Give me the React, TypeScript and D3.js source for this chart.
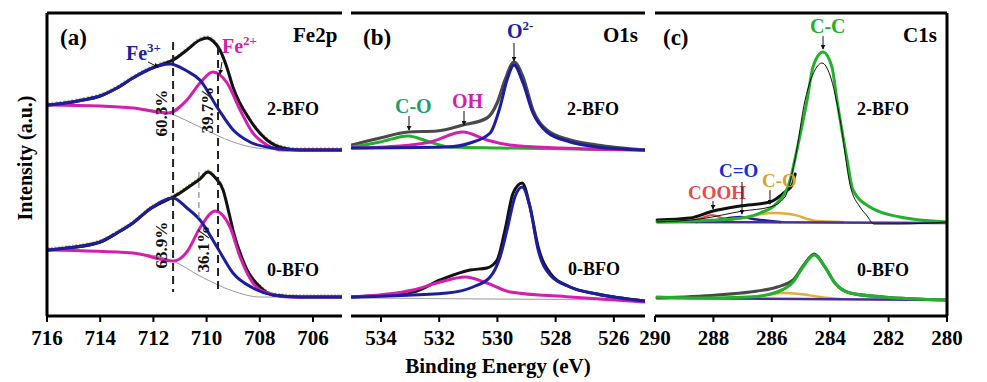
import React from 'react';
import * as d3 from 'd3';

type Pt = [number, number];

const FONT = "'Liberation Serif', 'Times New Roman', Times, serif";
const W = 987;
const H = 382;
const TOP = 13;
const BOTTOM = 316;

// ---------- tick labels ----------
const ticksA = [716, 714, 712, 710, 708, 706];
const ticksB = [534, 532, 530, 528, 526];
const ticksC = [290, 288, 286, 284, 282, 280];

// ---------- (a) Fe2p : [binding energy, intensity] ----------
const feTopBlack: Pt[] = [[715.96, 211], [715.3, 213], [714.65, 216], [714.0, 220], [713.37, 228], [712.77, 238], [712.13, 247], [711.86, 250], [711.26, 256], [710.74, 266], [710.25, 276], [709.98, 278], [709.76, 275], [709.5, 266], [709.23, 248], [709.01, 229], [708.37, 196], [707.73, 176], [707.13, 168], [706.5, 166], [704.9, 166]];
const feTopBlue: Pt[] = [[715.96, 211], [715.3, 213], [714.65, 216], [714.0, 220], [713.37, 228], [712.77, 238], [712.13, 247], [711.38, 252], [710.74, 245], [710.25, 236], [709.61, 209], [709.0, 186], [708.37, 174], [707.5, 168], [706.5, 166], [704.9, 166]];
const feTopMag: Pt[] = [[715.96, 211], [714.0, 210], [712.77, 208], [711.45, 203], [710.74, 216], [710.25, 233], [709.76, 244], [709.23, 233], [708.74, 206], [708.26, 183], [707.73, 171], [707.13, 166], [704.9, 166]];
const feTopBg: Pt[] = [[715.96, 211], [712.77, 208], [711.45, 203], [710.25, 189], [709.01, 174], [707.73, 167], [704.9, 166]];

const feBotBlack: Pt[] = [[715.96, 66], [715.25, 68], [714.0, 74], [713.37, 83], [712.77, 93], [712.13, 107], [711.26, 119], [711.0, 123], [710.62, 130], [710.25, 137], [709.95, 144], [709.7, 139], [709.38, 126], [709.15, 102], [709.0, 85], [708.7, 60], [708.48, 46], [707.99, 29], [707.5, 21], [706.5, 19], [704.9, 19]];
const feBotBlue: Pt[] = [[715.96, 66], [715.25, 68], [714.0, 74], [713.37, 83], [712.77, 93], [712.13, 107], [711.26, 118], [710.74, 108], [710.25, 96], [709.61, 69], [709.01, 43], [708.26, 28], [707.5, 21], [706.5, 19], [704.9, 19]];
const feBotMag: Pt[] = [[715.96, 66], [712.77, 63], [711.26, 55], [710.74, 64], [710.25, 88], [709.68, 105], [709.12, 89], [708.74, 59], [708.26, 33], [707.73, 23], [706.86, 19], [704.9, 19]];
const feBotBg: Pt[] = [[715.96, 66], [712.77, 63], [711.26, 55], [710.25, 40], [709.01, 25], [707.99, 19], [704.9, 19]];

const feDashed = [711.26, 709.57];
const feDashedThin = 710.29;
const fePercents = [
  { e: 711.71, v: 203, t: '60.3%' },
  { e: 709.98, v: 206, t: '39.7%' },
  { e: 711.71, v: 71, t: '63.9%' },
  { e: 710.1, v: 67, t: '36.1%' },
];

// ---------- (b) O1s ----------
const oTopBlack: Pt[] = [[535.0, 171], [534.03, 178], [533.07, 184], [532.08, 185], [531.18, 191], [530.36, 198], [530.01, 213], [529.74, 236], [529.43, 254], [529.12, 239], [528.78, 206], [528.3, 186], [527.5, 176], [526.58, 171], [524.95, 166]];
const oTopBlue: Pt[] = [[535.0, 168], [531.73, 169], [530.94, 173], [530.25, 183], [529.91, 209], [529.67, 236], [529.43, 251], [529.12, 233], [528.78, 203], [528.3, 184], [527.5, 174], [526.58, 169], [524.95, 166]];
const oTopMag: Pt[] = [[535.0, 168], [533.35, 170], [532.32, 174], [531.18, 184], [530.36, 176], [529.57, 171], [527.85, 168], [524.95, 166]];
const oTopGreen: Pt[] = [[535.0, 169], [534.03, 174], [533.07, 180], [532.32, 174], [531.63, 169], [529.91, 168], [524.95, 166]];

const oBotBlack: Pt[] = [[535.0, 19], [532.9, 24], [531.97, 36], [530.94, 46], [530.36, 48], [530.01, 56], [529.74, 86], [529.46, 123], [529.15, 133], [528.88, 109], [528.6, 69], [528.19, 43], [527.5, 29], [526.58, 22], [524.95, 15]];
const oBotBlue: Pt[] = [[535.0, 19], [531.73, 23], [530.84, 29], [530.25, 39], [529.91, 59], [529.67, 86], [529.4, 119], [529.15, 129], [528.88, 109], [528.6, 66], [528.19, 41], [527.5, 29], [526.58, 22], [524.95, 15]];
const oBotMag: Pt[] = [[535.0, 19], [532.9, 26], [531.97, 34], [531.11, 39], [530.36, 33], [529.57, 24], [527.5, 19], [524.95, 14]];
const oBotBg: Pt[] = [[535.0, 18], [524.95, 16]];

// ---------- (c) C1s ----------
const cTopGreen: Pt[] = [[289.93, 94], [287.33, 97], [286.4, 103], [285.82, 113], [285.38, 135], [285.14, 166], [284.79, 216], [284.59, 249], [284.25, 264], [283.94, 249], [283.77, 216], [283.42, 156], [283.22, 126], [282.64, 109], [281.61, 99], [280.0, 94]];
const cTopRaw: Pt[] = [[289.93, 94], [288.46, 97], [286.99, 105], [286.06, 109], [285.55, 119], [285.21, 156], [284.86, 216], [284.52, 246], [284.28, 253], [284.01, 241], [283.66, 196], [283.32, 131], [282.98, 109], [282.71, 99], [282.6, 94], [282.5, 92], [281.61, 92], [280.0, 94]];
const cTopBlack: Pt[] = [[289.93, 96], [288.8, 98], [288.01, 105], [287.09, 110], [286.06, 114], [285.55, 124], [285.3, 131], [285.2, 142]];
const cTopOrange: Pt[] = [[289.83, 94], [288.46, 95], [286.99, 98], [285.99, 103], [285.38, 102], [284.45, 95], [283.56, 94]];
const cTopBlue: Pt[] = [[288.6, 94], [288.0, 95.5], [287.09, 99], [286.5, 96.5], [285.7, 94]];
const cTopRed: Pt[] = [[288.9, 94], [288.4, 98], [288.05, 101], [287.7, 98], [287.3, 94]];
const cTopBase: Pt[] = [[289.93, 94], [280.0, 93]];

const cBotEnv: Pt[] = [[289.93, 18], [287.88, 21], [286.75, 24], [285.82, 29], [285.27, 36], [284.93, 50], [284.55, 62], [284.18, 49], [283.84, 33], [283.32, 23], [282.19, 19], [280.0, 16]];
const cBotGreen: Pt[] = [[289.93, 19], [288.46, 18], [286.75, 19], [285.82, 24], [285.27, 34], [284.93, 49], [284.55, 61], [284.18, 49], [283.84, 33], [283.32, 23], [282.19, 19], [280.0, 16]];
const cBotOrange: Pt[] = [[287.43, 18], [286.4, 20], [285.62, 23], [285.03, 22], [284.35, 19], [283.66, 17]];
const cBotBase: Pt[] = [[289.93, 18], [280.0, 16]];

// ---------- colours ----------
const BLUE = '#1d1d9e';
const MAG = '#d41fae';
const GREEN = '#23b02a';
const ORANGE = '#e3ad3c';
const RED = '#e84a4a';
const PURPLE = '#4a2c9c';
const BLACK = '#111111';
const DGRAY = '#4a4a4a';

const y = d3.scaleLinear().domain([0, 303]).range([BOTTOM, TOP]);
const xA = d3.scaleLinear().domain([716, 704.91]).range([47, 342]);
const xB = d3.scaleLinear().domain([535.03, 524.93]).range([351, 645]);
const xC = d3.scaleLinear().domain([290, 280]).range([655, 947]);

function path(xs: d3.ScaleLinear<number, number>, data: Pt[]) {
  const sorted = [...data].sort((a, b) => xs(a[0]) - xs(b[0]));
  return d3
    .line<Pt>()
    .x((d) => xs(d[0]))
    .y((d) => y(d[1]))
    .curve(d3.curveMonotoneX)(sorted) || '';
}

const L = ({ xs, d, c, w = 3, dash }: { xs: any; d: Pt[]; c: string; w?: number; dash?: string }) => (
  <path d={path(xs, d)} fill="none" stroke={c} strokeWidth={w} strokeDasharray={dash} strokeLinejoin="round" strokeLinecap="round" />
);

const Arrow = ({ x1, y1, x2, y2 }: { x1: number; y1: number; x2: number; y2: number }) => (
  <line x1={x1} y1={y1} x2={x2} y2={y2} stroke="#111" strokeWidth={1} markerEnd="url(#ah)" />
);

function Axis({ xs, ticks }: { xs: any; ticks: number[] }) {
  const [r0, r1] = xs.range();
  return (
    <g>
      <line x1={r0} x2={r1} y1={BOTTOM} y2={BOTTOM} stroke="#000" strokeWidth={3} />
      <line x1={r0} x2={r1} y1={TOP} y2={TOP} stroke="#000" strokeWidth={3} />
      {ticks.map((t) => (
        <g key={t}>
          <line x1={xs(t)} x2={xs(t)} y1={BOTTOM} y2={BOTTOM + 6} stroke="#000" strokeWidth={2} />
          <text x={xs(t)} y={345} textAnchor="middle" fontSize={21} fontWeight="bold" fontFamily={FONT} fill="#000">
            {t}
          </text>
        </g>
      ))}
    </g>
  );
}

export default function App() {
  const bold = { fontFamily: FONT, fontWeight: 'bold' as const };
  return (
    <div style={{ position: 'absolute', left: 0, top: 0, width: W, height: H, background: '#fff' }}>
      <svg width={W} height={H} style={{ display: 'block' }}>
        <defs>
          <marker id="ah" viewBox="0 0 6 6" refX={5} refY={3} markerWidth={5} markerHeight={5} orient="auto">
            <path d="M0,0 L6,3 L0,6 z" fill="#111" />
          </marker>
          <clipPath id="cpA"><rect x={47} y={TOP} width={295} height={BOTTOM - TOP} /></clipPath>
          <clipPath id="cpB"><rect x={351} y={TOP} width={294} height={BOTTOM - TOP} /></clipPath>
          <clipPath id="cpC"><rect x={655} y={TOP} width={292} height={BOTTOM - TOP} /></clipPath>
        </defs>
        <rect width={W} height={H} fill="#fff" />

        {/* ---------------- panel (a) ---------------- */}
        <g clipPath="url(#cpA)">
          <g transform="translate(0,-2)">
            <L xs={xA} d={feTopBlack} c="#b8b8b8" w={1.5} dash="1 3" />
            <L xs={xA} d={feBotBlack} c="#c9b878" w={1.5} dash="1 2.5" />
          </g>
          <L xs={xA} d={feTopBg} c="#9a9a9a" w={1} />
          <L xs={xA} d={feBotBg} c="#9a9a9a" w={1} />
          <L xs={xA} d={feTopBlack} c={BLACK} />
          <L xs={xA} d={feBotBlack} c={BLACK} />
          <L xs={xA} d={feTopMag} c={MAG} />
          <L xs={xA} d={feBotMag} c={MAG} />
          <L xs={xA} d={feTopBlue} c={BLUE} />
          <L xs={xA} d={feBotBlue} c={BLUE} />
        </g>
        {feDashed.map((e, i) => (
          <line key={e} x1={xA(e)} x2={xA(e)} y1={y(i === 0 ? 274 : 269)} y2={y(i === 0 ? 24 : 26)} stroke="#222" strokeWidth={2} strokeDasharray="8 5" />
        ))}
        <line x1={xA(feDashedThin)} x2={xA(feDashedThin)} y1={y(144)} y2={y(94)} stroke="#888" strokeWidth={1.2} strokeDasharray="6 4" />
        {fePercents.map((p) => (
          <text key={p.t} transform={`translate(${xA(p.e)},${y(p.v)}) rotate(-90)`} textAnchor="middle" dominantBaseline="central" fontSize={17} {...bold} fill="#111">
            {p.t}
          </text>
        ))}
        <line x1={47} x2={47} y1={TOP} y2={BOTTOM} stroke="#000" strokeWidth={3} />
        <Axis xs={xA} ticks={ticksA} />
        <text x={60} y={45} fontSize={23} {...bold}>(a)</text>
        <text x={293} y={42} fontSize={21} {...bold}>Fe2p</text>
        <text x={126} y={60} fontSize={20} {...bold} fill={BLUE}>Fe<tspan fontSize={13} dy={-8}>3+</tspan></text>
        <Arrow x1={148} y1={62} x2={158} y2={67} />
        <text x={222} y={53} fontSize={20} {...bold} fill={MAG}>Fe<tspan fontSize={13} dy={-8}>2+</tspan></text>
        <Arrow x1={222} y1={62} x2={220} y2={74} />
        <text x={267} y={115} fontSize={18} {...bold}>2-BFO</text>
        <text x={267} y={276} fontSize={18} {...bold}>0-BFO</text>

        {/* ---------------- panel (b) ---------------- */}
        <g clipPath="url(#cpB)">
          <L xs={xB} d={oBotBg} c="#aaaaaa" w={1.2} />
          <L xs={xB} d={oTopBlack} c={DGRAY} w={3.2} />
          <L xs={xB} d={oBotBlack} c={BLACK} />
          <L xs={xB} d={oTopGreen} c={GREEN} />
          <L xs={xB} d={oTopMag} c={MAG} />
          <L xs={xB} d={oBotMag} c={MAG} />
          <L xs={xB} d={oTopBlue} c={BLUE} />
          <L xs={xB} d={oBotBlue} c={BLUE} />
        </g>
        <Axis xs={xB} ticks={ticksB} />
        <text x={363} y={45} fontSize={23} {...bold}>(b)</text>
        <text x={603} y={42} fontSize={21} {...bold}>O1s</text>
        <text x={395} y={113} fontSize={20} {...bold} fill="#1e9e6e">C-O</text>
        <Arrow x1={409} y1={116} x2={409} y2={130} />
        <text x={452} y={108} fontSize={20} {...bold} fill={MAG}>OH</text>
        <Arrow x1={464} y1={111} x2={464} y2={125} />
        <text x={507} y={38} fontSize={20} {...bold} fill={BLUE}>O<tspan fontSize={13} dy={-8}>2-</tspan></text>
        <Arrow x1={514} y1={43} x2={514} y2={61} />
        <text x={567} y={115} fontSize={18} {...bold}>2-BFO</text>
        <text x={568} y={275} fontSize={18} {...bold}>0-BFO</text>

        {/* ---------------- panel (c) ---------------- */}
        <g clipPath="url(#cpC)">
          <L xs={xC} d={cTopRed} c={RED} w={2} />
          <L xs={xC} d={cTopBlue} c={BLUE} w={2.5} />
          <L xs={xC} d={cTopOrange} c={ORANGE} w={2.5} />
          <L xs={xC} d={cTopBase} c={PURPLE} w={2.5} />
          <L xs={xC} d={cBotOrange} c={ORANGE} w={2.5} />
          <L xs={xC} d={cBotBase} c={PURPLE} w={2.5} />
          <L xs={xC} d={cTopBlack} c={BLACK} w={3} />
          <L xs={xC} d={cBotEnv} c={DGRAY} w={3} />
          <L xs={xC} d={cTopGreen} c={GREEN} w={3} />
          <L xs={xC} d={cBotGreen} c={GREEN} w={3} />
          <L xs={xC} d={cTopRaw} c={BLACK} w={1} />
        </g>
        <Axis xs={xC} ticks={ticksC} />
        <line x1={947} x2={947} y1={TOP} y2={BOTTOM} stroke="#000" strokeWidth={3} />
        <text x={663} y={45} fontSize={23} {...bold}>(c)</text>
        <text x={903} y={42} fontSize={21} {...bold}>C1s</text>
        <text x={810} y={33} fontSize={20} {...bold} fill={GREEN}>C-C</text>
        <Arrow x1={823} y1={36} x2={823} y2={49} />
        <text x={688} y={199} fontSize={19} {...bold} fill={RED}>COOH</text>
        <Arrow x1={713} y1={201} x2={713} y2={209} />
        <text x={719} y={177} fontSize={19} {...bold} fill="#1a2ad8">C=O</text>
        <Arrow x1={742} y1={182} x2={742} y2={214} />
        <text x={762} y={187} fontSize={19} {...bold} fill="#d9a22a">C-O</text>
        <Arrow x1={770} y1={190} x2={770} y2={204} />
        <text x={857} y={115} fontSize={18} {...bold}>2-BFO</text>
        <text x={857} y={276} fontSize={18} {...bold}>0-BFO</text>

        {/* ---------------- axis titles ---------------- */}
        <text transform="translate(32,158) rotate(-90)" textAnchor="middle" fontSize={20} {...bold}>Intensity (a.u.)</text>
        <text x={498} y={373} textAnchor="middle" fontSize={21} {...bold}>Binding Energy (eV)</text>
      </svg>
    </div>
  );
}
